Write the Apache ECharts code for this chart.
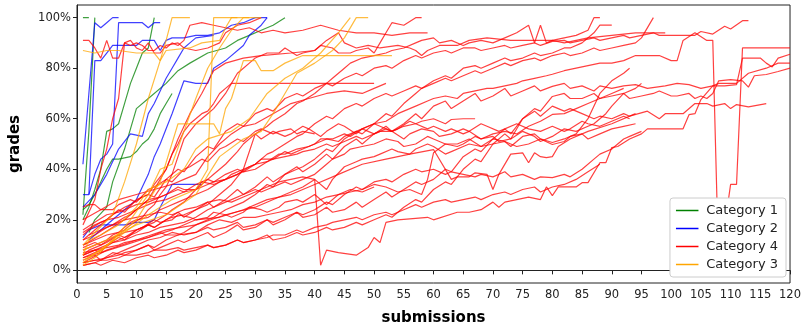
<!DOCTYPE html>
<html>
<head>
<meta charset="utf-8">
<script src="https://cdn.jsdelivr.net/npm/echarts@6/dist/echarts.min.js"></script>
<style>
html, body { margin: 0; padding: 0; background: #fff; }
#grades { width: 804px; height: 331px; }
</style>
</head>
<body>
<div id="grades"></div>
<script>
// tick labels
var yTicks = [0, 20, 40, 60, 80, 100];
var categories = ['Category 1', 'Category 2', 'Category 4', 'Category 3'];

// Category 1 (green) - [submission, grade %]
var cat1Lines = [
    [[1,100],[2,100]],
    [[1,22],[2,55],[3,100]],
    [[1,20],[2,25],[3,32],[4,40],[5,55],[6,56],[7,58],[8,66],[9,74],[10,80],[11,86],[12,88],[13,100]],
    [[2,15],[3,20],[5,25],[6,35],[8,48],[10,64],[12,68],[15,74],[17,79],[19,82],[22,86],[25,88],[27,91],[29,93],[31,95],[33,97],[35,100]],
    [[1,24],[2,26],[3,30],[4,35],[5,40],[6,44],[7,44],[9,45],[10,47],[11,50],[12,52],[13,56],[14,62],[15,66],[16,70]]
];

// Category 2 (blue)
var cat2Lines = [
    [[1,42],[2,70],[3,98],[4,96],[5,98],[6,100],[7,100]],
    [[1,30],[2,30],[3,38],[4,44],[5,46],[6,50],[7,98],[9,98],[11,98],[12,96],[13,98],[14,98]],
    [[2,30],[3,83],[4,83],[5,86],[6,89],[8,89],[10,89],[11,91],[13,91],[14,87],[15,91],[16,92],[18,92],[20,93],[22,93],[24,94],[26,97],[28,98],[30,100],[32,100]],
    [[1,13],[2,16],[4,18],[6,18],[8,18],[10,19],[12,19],[13,20],[14,25],[16,34],[18,34],[21,34]],
    [[1,25],[3,30],[5,38],[7,48],[9,54],[11,53],[12,62],[13,66],[14,71],[15,76],[16,80],[17,84],[18,88],[19,90],[20,92],[23,93]],
    [[2,12],[4,16],[6,20],[8,24],[10,28],[12,38],[13,45],[14,50],[15,56],[16,62],[18,75],[20,74],[22,74],[23,80],[25,83],[28,89],[29,93],[30,95],[31,97],[32,100]]
];

// Category 4 (red)
var cat4Lines = [
    [[1,91],[2,91],[3,88],[4,84],[5,91],[6,84],[7,84],[8,90],[9,89],[10,90],[11,89],[12,87],[13,87],[14,89],[15,88],[16,90],[17,89],[18,91],[19,97],[21,98],[23,97],[25,96],[27,95],[29,96],[31,94],[33,95],[35,94],[38,95],[41,97],[44,95],[47,94],[50,94],[53,93],[56,94],[59,94]],
    [[1,18],[3,28],[4,40],[5,48],[6,60],[7,68],[8,90],[9,91],[10,88],[11,87],[12,90],[13,86],[14,86],[15,89],[17,90],[18,88],[20,87],[22,88],[24,90],[25,94],[27,97],[29,98],[31,100]],
    [[1,12],[2,14],[3,16],[5,20],[6,22],[8,25],[9,26],[11,29],[12,30],[13,34],[15,40],[16,46],[17,50],[18,55],[19,58],[20,60],[21,62],[22,63],[23,66],[24,70],[25,72],[26,74],[27,78],[28,80],[29,82],[30,84],[31,85],[32,86],[34,86],[35,88],[37,85],[38,86],[40,87],[41,89],[43,88],[44,86],[46,86],[47,87],[49,88],[50,86],[51,90],[52,94],[53,98],[55,97],[57,100],[58,100]],
    [[1,8],[2,9],[3,10],[5,12],[6,14],[8,16],[9,18],[11,21],[12,24],[13,26],[14,30],[15,33],[16,38],[17,45],[18,52],[19,55],[20,58],[21,60],[22,62],[23,64],[24,67],[25,70],[26,74],[50,74]],
    [[1,10],[4,14],[8,20],[12,28],[15,40],[17,52],[19,62],[21,70],[23,79],[25,82],[28,84],[31,85],[36,86],[40,87],[42,91],[44,94],[45,90],[47,88],[49,89],[51,88],[54,89],[56,88],[57,87],[58,85],[59,87],[61,89],[64,89],[66,91],[69,92],[73,91],[76,91],[80,91],[82,90],[86,92],[90,93],[94,94],[99,94]],
    [[1,5],[3,7],[4,8],[6,11],[8,13],[10,15],[12,18],[13,19],[15,22],[16,24],[18,27],[20,32],[22,36],[23,38],[25,42],[27,47],[28,50],[30,54],[32,57],[33,59],[35,62],[37,66],[38,67],[40,70],[42,74],[43,76],[45,80],[46,82],[48,84],[50,85],[52,86],[53,87],[55,88],[57,90],[58,91],[60,92],[61,90],[63,91],[65,89],[66,90],[68,91],[70,90],[72,92],[74,94],[76,97],[77,90],[78,97],[79,90],[80,91],[82,92],[84,93],[86,95],[87,100],[88,100]],
    [[1,3],[3,4],[5,5],[7,6],[8,7],[10,8],[12,10],[13,9],[15,12],[17,14],[18,15],[20,18],[22,20],[23,21],[25,24],[27,26],[28,27],[30,30],[32,34],[33,33],[35,38],[37,40],[38,41],[40,44],[42,48],[43,47],[45,52],[47,55],[48,54],[50,58],[52,62],[53,61],[55,66],[57,70],[58,72],[60,75],[62,77],[63,76],[65,80],[67,81],[68,80],[70,82],[72,84],[73,83],[75,84],[77,86],[78,85],[80,86],[82,88],[83,88],[85,90],[87,94],[88,97],[90,97]],
    [[1,16],[3,19],[5,22],[7,23],[8,24],[10,26],[12,27],[13,28],[15,30],[17,32],[18,31],[20,34],[22,36],[23,35],[25,38],[27,40],[28,39],[30,42],[32,46],[33,47],[35,50],[37,53],[38,54],[40,58],[42,61],[43,60],[45,64],[47,66],[48,65],[50,68],[52,70],[53,69],[55,71],[57,73],[58,72],[60,74],[62,76],[63,75],[65,77],[67,79],[68,78],[70,80],[72,82],[73,81],[75,83],[77,84],[78,83],[80,85],[82,86],[83,85],[85,86],[87,88],[88,87],[90,88],[92,89],[94,90],[95,92],[97,100]],
    [[1,10],[3,12],[5,14],[7,15],[9,19],[10,20],[12,21],[14,24],[15,25],[17,27],[19,29],[20,30],[22,32],[24,35],[25,36],[27,38],[29,41],[30,42],[32,43],[34,46],[35,46],[37,48],[39,49],[40,50],[42,52],[44,51],[45,53],[47,55],[49,57],[50,58],[52,59],[54,62],[55,63],[57,65],[59,67],[60,68],[62,69],[64,68],[65,70],[67,71],[69,72],[70,72],[72,73],[74,74],[75,75],[77,76],[79,77],[80,77.6],[82,79],[84,80],[86,81],[88,82],[90,82],[92,83],[94,85],[96,85],[98,85],[100,83],[101,83],[102,91],[104,94],[106,91],[107,91],[108,1],[110,34],[111,34],[112,88],[120,88]],
    [[1,14],[2,16],[4,19],[5,20],[7,24],[8,23],[10,28],[12,30],[13,29],[15,36],[17,40],[18,39],[20,45],[22,49],[23,48],[25,55],[27,58],[28,57],[30,62],[32,64],[33,63],[35,68],[37,70],[38,69],[40,72],[42,74],[43,73],[45,76],[47,78],[48,77],[50,80],[52,81],[53,80],[55,83],[57,85],[58,84],[60,86],[62,87],[63,86],[65,88],[67,88],[68,87],[70,88],[72,89],[73,88],[75,89],[77,90],[78,89],[80,90.6],[82,91],[83,90],[85,91],[87,92],[88,91],[90,92],[92,93],[93,92],[95,93],[97,94],[98,93],[100,93],[102,93],[104,93],[105,94.5],[107,93.5],[109,96.6],[110,95.5],[112,98.8],[113,98.8]],
    [[1,6],[3,8],[4,7],[5,10],[7,13],[8,12],[10,16],[12,18],[13,17],[15,20],[17,23],[18,21],[20,24],[22,27],[23,25],[25,28],[27,32],[28,30],[30,33],[32,37],[33,35],[35,38],[37,41],[38,39],[40,42],[42,46],[43,44],[45,49],[47,52],[48,50],[50,54],[52,57],[53,55],[55,58],[57,62],[58,60],[60,65],[62,67],[63,64],[65,67],[67,70],[68,67],[70,69],[72,72],[73,69],[75,71],[77,73],[78,71],[80,72.8],[82,74],[83,72],[85,73],[87,71],[88,73],[90,72],[92,73],[94,73.5],[96,72],[99,73],[101,74],[103,73.5],[105,72],[107,73],[109,73],[111,73.5],[112,84],[115,84],[116,82],[117,80.5],[118,84],[120,85.5]],
    [[1,3],[5,8],[10,12],[15,16],[20,18],[25,22],[30,25],[35,30],[38,33],[40,36],[41,2],[42,8],[44,7],[47,6],[49,9],[50,13],[51,11],[52,19],[54,20],[59,21],[60,20],[64,23],[66,23],[68,24],[70,27],[71,25],[72,27],[74,28],[76,29],[78,28],[79,33],[80,29.6],[81,33],[84,33],[85,34.7],[86,34.7],[88,42.6],[89,42.6],[90,48.6],[91,49],[93,52],[95,54],[96,56],[102,56],[103,61.6],[104,62],[105,67.6],[107,73],[108,74],[111,74],[113,78],[116,80],[118,82],[120,82]],
    [[1,4],[3,6],[4,4],[6,7],[8,6],[10,8],[12,10],[13,8],[15,10],[17,12],[18,11],[20,13],[22,15],[23,13],[25,15],[27,18],[28,16],[30,17],[32,20],[33,18],[35,20],[37,23],[38,21],[40,22],[42,25],[43,23],[45,24],[47,27],[48,25],[50,28],[52,31],[53,29],[55,32],[57,35],[58,34],[60,36],[62,40],[63,39],[65,45],[67,48],[68,47],[70,52],[72,56],[73,54],[75,60],[77,63],[78,61],[80,65],[82,63],[83,64],[85,62],[87,60],[88,61],[90,60],[92,62],[93,61],[96,63],[98,60],[99,62],[102,62],[104,66],[106,66],[107,65],[109,66],[110,64],[111,65.6],[113,64.7],[116,66]],
    [[1,2],[3,3],[4,2],[6,4],[8,3],[10,5],[12,6],[13,5],[15,6],[17,8],[18,7],[20,8],[22,10],[23,9],[25,10],[27,12],[28,11],[30,12],[32,14],[33,12],[35,13],[37,15],[38,14],[40,15],[42,17],[43,16],[45,17],[47,19],[48,18],[50,20],[52,22],[53,21],[55,25],[57,28],[58,27],[60,32],[62,35],[63,34],[65,40],[67,44],[68,43],[70,50],[72,54],[73,52],[75,60],[77,64],[78,63],[80,68.8],[82,70],[83,68],[85,68],[87,70],[88,68],[90,69],[92,70],[93,68],[95,69],[97,70],[98,71],[100,69],[101,69],[103,70],[104,68],[105,69],[106,68],[107,70],[108,75],[110,75.5],[112,75],[113,72.5],[114,77],[116,77.5],[118,78.7],[120,80]],
    [[1,20],[4,24],[7,28],[10,30],[13,32],[16,34],[18,36],[20,38],[22,45],[24,50],[26,54],[28,57],[30,58],[33,62],[36,66],[39,68],[42,70],[45,71],[48,70],[50,72],[52,74]],
    [[1,9],[3,11],[4,10],[6,13],[8,15],[10,16],[12,18],[13,17],[15,20],[16,21],[18,22],[20,24],[22,26],[24,30],[26,34],[28,40],[30,54],[31,52],[33,55],[35,53],[36,54],[38,57],[39,56],[41,53],[42,55],[44,58],[45,57],[47,54],[48,56],[50,58],[51,57],[53,55],[54,56],[56,59],[57,58],[59,56],[60,57],[62,55],[63,56],[65,54],[66,55],[68,58],[69,57],[71,55],[72,56],[74,58],[76,56],[78,55],[80,57],[82,55],[83,56],[85,59],[86,58],[88,57],[90,59],[92,61],[93,60]],
    [[1,12],[2,13],[3,14],[5,17],[6,18],[8,21],[9,22],[11,26],[12,28],[14,29],[15,30],[17,33],[18,32],[20,32],[21,35],[23,34],[25,36],[26,38],[28,40],[30,42],[31,44],[33,44],[35,47],[36,46],[38,48],[40,50],[41,52],[43,52],[45,54],[46,53],[48,56],[50,54],[51,55],[53,55],[55,52],[56,54],[58,56],[60,55],[61,53],[63,54],[65,56],[66,55],[68,52],[70,53],[71,51],[73,52],[75,55],[77,53],[78,51],[80,53],[82,56],[84,55],[86,57],[87,58],[89,62],[90,65],[92,70],[94,72],[95,74]],
    [[1,7],[3,8],[4,9],[6,11],[8,12],[10,14],[12,15],[14,17],[16,18],[18,19],[20,21],[22,24],[24,26],[26,28],[28,30],[30,32],[31,31],[33,33],[35,35],[36,34],[38,36],[40,38],[42,42],[43,44],[45,46],[46,48],[48,49],[50,50],[52,52],[54,51],[55,49],[57,50],[59,53],[60,52],[62,50],[64,50],[66,52],[68,49],[70,50],[72,51],[74,49],[76,50],[78,52],[80,50.6],[82,52],[84,54],[86,60],[88,70],[90,75],[92,78],[93,80]],
    [[2,14],[4,16],[5,17],[7,19],[8,20],[10,21],[12,22],[14,23],[16,22],[18,24],[20,25],[22,27],[24,28],[26,27],[28,29],[30,31],[32,33],[34,35],[36,36],[38,37],[40,36],[42,32],[43,36],[45,41],[47,43],[48,44],[50,45],[51,46],[53,48],[54,47],[56,46],[57,48],[59,50],[60,49],[62,46],[63,47],[65,49],[66,50],[68,49],[70,52],[72,51],[73,49],[75,53],[77,54],[78,52],[80,49.8],[82,51],[83,53],[85,54],[86,52],[88,54],[90,56],[92,57],[94,58]],
    [[1,5],[4,7],[8,10],[12,13],[16,16],[20,20],[24,21],[28,24],[32,28],[36,30],[40,34],[44,38],[48,42],[52,44],[56,46],[60,47.8],[63,36],[64,37],[66,37],[67,38.6],[69,38],[70,32],[71,38],[73,46],[75,46.5],[76,42.6],[77,46.5],[78,45],[79,44.6],[80,45],[81,49],[83,52],[86,55],[90,58],[94,62]],
    [[1,6],[3,8],[5,9],[7,10],[8,11],[10,12],[12,13],[14,15],[15,14],[17,14],[20,15],[22,17],[23,16],[25,17],[27,19],[28,17],[30,18],[32,20],[33,19],[35,21],[37,23],[38,22],[40,24],[42,27],[43,26],[45,30],[47,33],[48,32],[50,35],[52,36],[53,35],[55,38],[57,40],[58,39],[60,40],[62,38],[63,39],[65,38],[67,37],[68,38],[70,37],[72,39],[73,37],[75,38],[77,36],[78,37],[80,36.7],[82,38],[83,37],[85,40],[87,44],[88,46],[90,48],[92,52],[93,53],[95,55]],
    [[1,3],[3,4],[5,4],[7,5],[8,6],[10,6],[12,7],[13,8],[15,8],[17,9],[18,8],[20,9],[22,10],[23,9],[25,10],[27,12],[28,11],[30,12],[32,13],[33,14],[35,14],[37,16],[38,15],[40,17],[42,18],[43,19],[45,20],[47,21],[48,20],[50,22],[52,23],[53,22],[55,24],[57,26],[58,25],[60,27],[62,28],[63,27],[65,28],[67,29],[68,28],[70,30],[72,31],[73,30],[75,32],[77,33],[78,31],[80,33],[82,34],[84,36],[86,39],[88,42]],
    [[1,15],[3,18],[5,20],[7,21],[8,22],[10,24],[12,26],[13,27],[15,28],[17,30],[18,31],[20,32],[22,34],[23,35],[25,36],[27,38],[28,39],[30,40],[32,43],[33,44],[35,45],[37,46],[38,47],[40,48],[42,50],[43,49],[45,51],[47,53],[48,52],[50,54],[52,56],[53,55],[55,57],[57,58],[58,59],[60,60],[62,58],[63,59.7],[65,60],[67,60]],
    [[1,2],[3,3],[4,4],[6,6],[8,8],[10,10],[12,12],[14,13],[16,15],[18,14],[20,15],[22,18],[24,20],[26,19],[28,21],[30,21],[32,22],[34,23],[36,24],[38,26],[40,27],[42,29],[44,30],[46,31],[48,32],[50,34],[52,33],[54,31],[56,32],[58,30],[59,36],[60,46.5],[62,50],[64,49],[65,50],[67,53],[68,52],[70,54],[72,55],[74,54],[76,57],[78,59],[80,61.7],[82,62],[84,64],[86,66],[88,68],[90,70],[92,72]],
    [[1,25],[2,26],[3,26],[4,24],[6,24],[7,26],[9,28],[10,27],[12,32],[13,33],[15,36],[16,35],[18,40],[19,41],[21,44],[22,43],[24,48],[25,49],[27,52],[28,51],[30,55],[31,56],[33,54],[34,55],[36,56],[37,54],[38,55],[40,54]],
    [[1,6],[2,8],[4,10],[5,11],[7,14],[8,13],[10,16],[11,17],[13,20],[14,19],[16,20],[17,22],[19,21],[20,20],[22,21],[23,23],[25,22],[26,21],[28,23],[29,25],[31,24],[32,23],[34,25],[35,27],[37,28],[38,27],[40,30],[42,26],[44,30],[45,31],[46,32],[48,31],[50,33]]
];

// Category 3 (orange)
var cat3Lines = [
    [[1,10],[3,15],[6,22],[8,35],[10,50],[12,68],[14,83],[15,91],[16,100],[19,100]],
    [[1,87],[3,86],[5,87],[7,87],[10,86],[13,86],[14,83],[15,87],[19,88],[21,90],[24,91],[25,96],[26,100],[29,100]],
    [[1,4],[4,8],[8,15],[12,22],[16,28],[20,32],[22,40],[23,100],[27,100]],
    [[1,3],[5,10],[10,20],[14,35],[17,58],[23,58],[24,54],[25,64],[26,68],[28,83],[30,83],[31,79],[33,79],[35,82],[38,85],[53,85]],
    [[1,8],[5,12],[10,18],[15,22],[20,30],[24,45],[28,52],[31,55],[33,62],[35,70],[37,78],[40,82],[43,87],[45,92],[47,100],[49,100]],
    [[1,2],[3,5],[6,12],[9,20],[12,30],[14,40],[16,42],[18,55],[20,68],[22,80],[24,88],[26,95],[28,100],[31,100]],
    [[1,6],[2,12],[4,14],[7,18],[10,25],[12,32],[15,35],[18,40],[20,48],[22,52],[26,55],[29,60],[32,70],[35,76],[38,80],[41,86],[44,94],[46,100]]
];

var colors = {
    'Category 1': '#008000',
    'Category 2': '#0000ff',
    'Category 4': '#ff0000',
    'Category 3': '#ffa500'
};

function makeSeries(name, lines) {
    var out = [];
    for (var i = 0; i < lines.length; i++) {
        out.push({
            name: name,
            type: 'line',
            data: lines[i],
            symbol: 'none',
            showSymbol: false,
            silent: true,
            itemStyle: { color: colors[name] },
            lineStyle: { color: colors[name], width: 1.2, opacity: 0.75 }
        });
    }
    return out;
}

var series = []
    .concat(makeSeries('Category 1', cat1Lines))
    .concat(makeSeries('Category 2', cat2Lines))
    .concat(makeSeries('Category 4', cat4Lines))
    .concat(makeSeries('Category 3', cat3Lines));

var myChart = echarts.init(document.getElementById('grades'));
var option = {
    animation: false,
    textStyle: { fontFamily: 'DejaVu Sans' },
    grid: {
        left: 76, right: 11, top: 5, bottom: 48,
        show: true,
        borderColor: '#222',
        borderWidth: 1
    },
    legend: {
        data: categories,
        orient: 'vertical',
        right: 18,
        bottom: 54,
        icon: 'path://M0,0 L30,0 L30,2 L0,2 Z',
        itemWidth: 28,
        itemHeight: 1.5,
        itemGap: 5,
        padding: [6, 8, 6, 6],
        backgroundColor: '#fff',
        borderColor: '#ccc',
        borderWidth: 1,
        borderRadius: 3,
        textStyle: { fontSize: 13, color: '#222', fontFamily: 'DejaVu Sans' }
    },
    xAxis: {
        type: 'value',
        min: 0,
        max: 120,
        interval: 5,
        name: 'submissions',
        nameLocation: 'middle',
        nameGap: 28,
        nameTextStyle: { fontSize: 15, fontWeight: 'bold', color: '#000' },
        axisLine: { show: true, lineStyle: { color: '#222' } },
        axisTick: { show: true, length: 4, lineStyle: { color: '#222' } },
        axisLabel: { fontSize: 11.5, color: '#222', margin: 6 },
        splitLine: { show: false }
    },
    yAxis: {
        type: 'value',
        min: -5,
        max: 105,
        name: 'grades',
        nameLocation: 'middle',
        nameGap: 54,
        nameTextStyle: { fontSize: 15, fontWeight: 'bold', color: '#000' },
        axisLine: { show: true, lineStyle: { color: '#222' } },
        axisTick: { show: true, length: 4, customValues: yTicks, lineStyle: { color: '#222' } },
        axisLabel: {
            fontSize: 11.5, color: '#222', margin: 6,
            customValues: yTicks,
            formatter: '{value}%'
        },
        splitLine: { show: false }
    },
    series: series
};
myChart.setOption(option);
</script>
</body>
</html>
